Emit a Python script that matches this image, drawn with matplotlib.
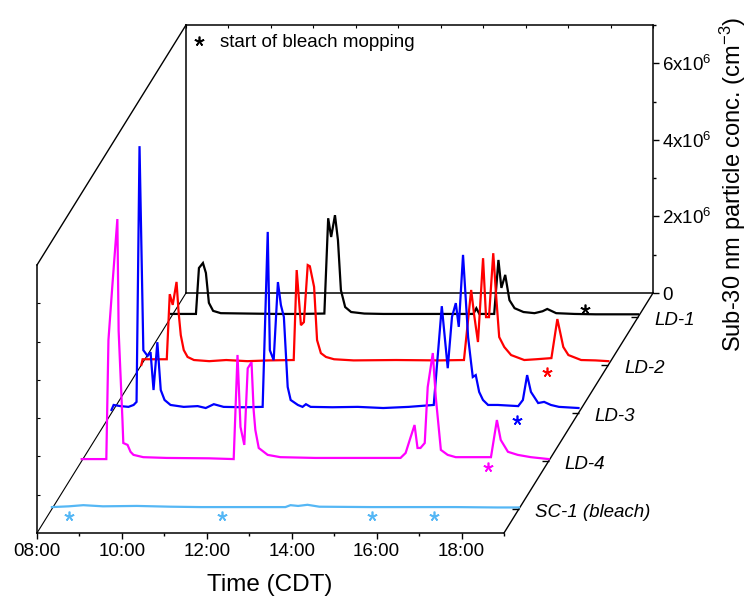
import matplotlib
matplotlib.use('Agg')
import matplotlib.pyplot as plt
from matplotlib.transforms import Affine2D, ScaledTranslation
from matplotlib.lines import Line2D
from matplotlib.ticker import NullLocator, FixedLocator

plt.rcParams['font.family'] = ['Liberation Sans', 'DejaVu Sans']
plt.rcParams['mathtext.fontset'] = 'custom'
plt.rcParams['mathtext.rm'] = 'Liberation Sans'
plt.rcParams['mathtext.it'] = 'Liberation Sans:italic'
plt.rcParams['mathtext.default'] = 'regular'

# ---------------- data (time in hours CDT, concentration in 1e6 cm^-3) -------------
series_names = ['LD-1', 'LD-2', 'LD-3', 'LD-4', 'SC-1 (bleach)']
series_colors = ['#000000', '#FF0000', '#0000FF', '#FF00FF', '#55B7F5']
series_depth = [0.9, 0.7, 0.5, 0.3, 0.1]

t_ld1 = [8.00, 8.585, 8.656, 8.75, 8.82, 8.89, 8.99, 9.17, 9.8, 10.5, 11.0, 11.61, 11.70,
         11.77, 11.86, 11.93, 12.00, 12.10, 12.24, 12.55, 13.0, 14.0, 15.0, 15.12, 15.19,
         15.26, 15.61, 15.71, 15.78, 15.87, 15.97, 16.09, 16.30, 16.56, 16.75, 16.86, 17.07,
         17.5, 18.0, 19.0]
z_ld1 = [0.08, 0.08, 1.28, 1.41, 1.15, 0.37, 0.16, 0.10, 0.09, 0.08, 0.08, 0.09, 2.58,
         2.09, 2.66, 2.01, 0.70, 0.26, 0.13, 0.09, 0.08, 0.08, 0.08, 0.08, 0.23,
         0.08, 0.08, 1.49, 0.76, 1.10, 0.44, 0.23, 0.13, 0.10, 0.15, 0.21, 0.10,
         0.08, 0.07, 0.07]

t_ld2 = [8.00, 8.03, 8.60, 8.67, 8.74, 8.83, 8.88, 8.93, 9.00, 9.09, 9.24, 9.6, 10.0, 10.5,
         11.0, 11.59, 11.66, 11.76, 11.83, 11.92, 11.97, 12.07, 12.14, 12.23, 12.35, 12.54,
         13.0, 14.0, 15.0, 15.60, 15.77, 15.84, 15.93, 16.05, 16.12, 16.19, 16.29, 16.36,
         16.43, 16.55, 16.71, 17.02, 17.3, 17.66, 17.80, 17.94, 18.06, 18.36, 18.7, 19.0]
z_ld2 = [0.00, 0.15, 0.15, 1.85, 1.57, 2.17, 1.36, 0.78, 0.39, 0.21, 0.13, 0.10, 0.13, 0.10,
         0.12, 0.13, 2.48, 1.04, 1.12, 2.61, 2.58, 2.04, 0.65, 0.31, 0.21, 0.15,
         0.12, 0.13, 0.12, 0.13, 1.96, 1.31, 0.60, 2.79, 1.25, 1.25, 2.92, 1.78,
         0.73, 0.47, 0.26, 0.13, 0.15, 0.18, 1.20, 0.47, 0.26, 0.13, 0.12, 0.10]

t_ld3 = [8.00, 8.05, 8.21, 8.40, 8.52, 8.59, 8.66, 8.75, 8.85, 8.92, 8.99, 9.08, 9.16, 9.25,
         9.39, 9.70, 10.03, 10.22, 10.41, 10.64, 11.10, 11.56, 11.68, 11.73, 11.82, 11.92,
         11.99, 12.06, 12.15, 12.22, 12.39, 12.50, 12.58, 12.69, 13.2, 13.8, 14.4, 15.0,
         15.59, 15.78, 15.92, 16.02, 16.11, 16.18, 16.28, 16.40, 16.47, 16.51, 16.58, 16.66,
         16.75, 16.87, 17.10, 17.58, 17.69, 17.79, 17.88, 18.05, 18.19, 18.35, 18.54, 19.00]
z_ld3 = [0.08, 0.21, 0.18, 0.16, 0.21, 0.29, 6.97, 1.64, 1.49, 1.59, 0.60, 1.85, 0.60, 0.34,
         0.21, 0.16, 0.18, 0.13, 0.23, 0.16, 0.15, 0.16, 4.73, 1.64, 1.38, 3.42,
         2.82, 2.51, 0.68, 0.34, 0.21, 0.16, 0.23, 0.16, 0.15, 0.16, 0.13, 0.16,
         0.21, 2.79, 1.17, 2.51, 2.87, 2.25, 4.13, 1.98, 1.31, 0.94, 0.99, 0.55,
         0.34, 0.21, 0.21, 0.18, 0.34, 0.99, 0.55, 0.26, 0.29, 0.21, 0.16, 0.13]

t_ld4 = [8.00, 8.58, 8.63, 8.72, 8.84, 8.87, 8.96, 8.98, 9.08, 9.15, 9.22, 9.45, 10.0, 11.0,
         11.58, 11.67, 11.74, 11.83, 11.91, 12.00, 12.05, 12.09, 12.17, 12.38, 12.68, 13.5,
         14.5, 15.51, 15.63, 15.75, 15.84, 15.91, 15.98, 16.08, 16.15, 16.27, 16.34, 16.46,
         16.62, 16.81, 17.64, 17.78, 17.87, 18.04, 18.27, 18.58, 19.00]
z_ld4 = [0.05, 0.05, 3.16, 4.55, 6.32, 3.40, 1.07, 0.47, 0.42, 0.24, 0.16, 0.10, 0.08, 0.07,
         0.05, 2.77, 0.89, 0.42, 2.42, 2.58, 1.33, 0.81, 0.34, 0.16, 0.10, 0.08,
         0.08, 0.08, 0.21, 0.63, 0.94, 0.34, 0.34, 0.47, 1.93, 2.82, 1.67, 0.29,
         0.16, 0.10, 0.10, 1.07, 0.55, 0.24, 0.16, 0.10, 0.05]

t_sc1 = [8.0, 8.4, 8.74, 9.2, 10.0, 10.8, 11.5, 12.5, 13.5, 13.62, 13.8, 14.02, 14.3, 15.5,
         16.5, 17.5, 18.5, 19.0]
z_sc1 = [0.05, 0.07, 0.10, 0.07, 0.08, 0.06, 0.05, 0.05, 0.05, 0.10, 0.08, 0.11, 0.06, 0.05,
         0.05, 0.05, 0.04, 0.04]

series_t = [t_ld1, t_ld2, t_ld3, t_ld4, t_sc1]
series_z = [z_ld1, z_ld2, z_ld3, z_ld4, z_sc1]

# start of bleach mopping (hours)
mop_ld1 = [17.76]
mop_ld2 = [17.56]
mop_ld3 = [17.55]
mop_ld4 = [17.57]
mop_sc1 = [8.41, 12.01, 15.55, 16.99]
series_mop = [mop_ld1, mop_ld2, mop_ld3, mop_ld4, mop_sc1]

x_ticks = [8, 10, 12, 14, 16, 18]
x_ticklabels = ['08:00', '10:00', '12:00', '14:00', '16:00', '18:00']
x_minor = [9, 11, 13, 15, 17, 19]
z_ticks = [0, 2e6, 4e6, 6e6]
z_ticklabels = ['0', '2x10$^{6}$', '4x10$^{6}$', '6x10$^{6}$']
z_minor = [1e6, 3e6, 5e6, 7e6]

# ---------------- styles / layout ----------------
star_offset_pt = [6.0, -5.0, -5.0, -4.5, -4.8]
W, H = 749, 597
L, B, FW, FH = 37, 64, 467, 268      # front face in pixels
OX, OY = 149, 240                    # oblique depth offset in pixels
TMIN, TMAX = 8, 19
ZMAX = 7e6
FS = 13.5

fig = plt.figure(figsize=(W / 100, H / 100), dpi=100)

ax_back = fig.add_axes([(L + OX) / W, (B + OY) / H, FW / W, FH / H], zorder=1)
ax = fig.add_axes([L / W, B / H, FW / W, FH / H], zorder=3)
for a in (ax, ax_back):
    a.set_xlim(TMIN, TMAX)
    a.set_ylim(0, ZMAX)
    a.patch.set_alpha(0)
    for s in a.spines.values():
        s.set_linewidth(1.1)

DX = OX / FW * (TMAX - TMIN)
DY = OY / FH * ZMAX

# back face
ax_back.yaxis.tick_right()
ax_back.set_yticks(z_ticks, z_ticklabels, fontsize=FS)
ax_back.yaxis.set_minor_locator(FixedLocator(z_minor))
ax_back.tick_params(axis='y', which='both', direction='out', left=False, right=True,
                    labelleft=False, labelright=True, pad=2, width=1.0)
ax_back.tick_params(axis='y', which='major', length=4.5)
ax_back.tick_params(axis='y', which='minor', length=2.5)
ax_back.set_xticks(list(range(TMIN, TMAX + 1)))
ax_back.tick_params(axis='x', which='both', direction='in', top=True, bottom=False,
                    labeltop=False, labelbottom=False, length=2.5, width=0.8)

# front face
ax.spines['top'].set_visible(False)
ax.spines['right'].set_visible(False)
ax.set_xticks(x_ticks, x_ticklabels, fontsize=FS)
ax.xaxis.set_minor_locator(FixedLocator(x_minor))
ax.tick_params(axis='x', which='major', direction='out', length=4.5, width=1.0, pad=3)
ax.tick_params(axis='x', which='minor', direction='out', length=2.5, width=1.0)
ax.yaxis.set_major_locator(NullLocator())
ax.yaxis.set_minor_locator(FixedLocator([1e6, 2e6, 3e6, 4e6, 5e6, 6e6]))
ax.tick_params(axis='y', which='minor', direction='in', length=2.5, width=0.8)

# connecting edges of the box
ax.plot([TMIN, TMIN + DX], [0, DY], color='black', lw=0.8, clip_on=False, zorder=1)
ax.plot([TMIN, TMIN + DX], [ZMAX, ZMAX + DY], color='black', lw=1.0, clip_on=False, zorder=1)
ax.plot([TMAX, TMAX + DX], [0, DY], color='black', lw=1.0, clip_on=False, zorder=1)

# series
for name, col, d, ts, zs, mop, off in zip(series_names, series_colors, series_depth,
                                           series_t, series_z, series_mop, star_offset_pt):
    tr = Affine2D().translate(d * DX, d * DY) + ax.transData
    ax.plot(ts, [v * 1e6 for v in zs], color=col, lw=1.6, transform=tr, clip_on=False,
            zorder=2, solid_joinstyle='miter')
    ax.plot([TMAX], [0], marker=0, ms=5, mew=1.0, color='black', transform=tr,
            clip_on=False, zorder=2)
    ax.annotate(name, xy=(TMAX, 0), xycoords=tr, xytext=(11.5, -2.5),
                textcoords='offset points', ha='left', va='center', fontsize=FS,
                fontstyle='italic', annotation_clip=False)
    str_tr = tr + ScaledTranslation(0, off / 72, fig.dpi_scale_trans)
    ax.plot(mop, [0] * len(mop), ls='none', marker=(5, 2, 0), ms=7, mew=1.2,
            color=col, transform=str_tr, clip_on=False, zorder=4)

# legend
handle = Line2D([], [], ls='none', marker=(5, 2, 0), ms=7, mew=1.2, color='black')
ax_back.legend([handle], ['start of bleach mopping'], loc='upper left',
               bbox_to_anchor=(0, 0.98), frameon=False, fontsize=FS,
               borderaxespad=0, borderpad=0.2, handlelength=1.0, handletextpad=0.6)

# axis titles
fig.text(270 / W, 1 - 585 / H, 'Time (CDT)', ha='center', va='center', fontsize=17.5)
fig.text(733 / W, 1 - 184 / H, 'Sub-30 nm particle conc. (cm$^{-3}$)', ha='center',
         va='center', rotation=90, fontsize=17)

fig.savefig('out.png', dpi=100)
